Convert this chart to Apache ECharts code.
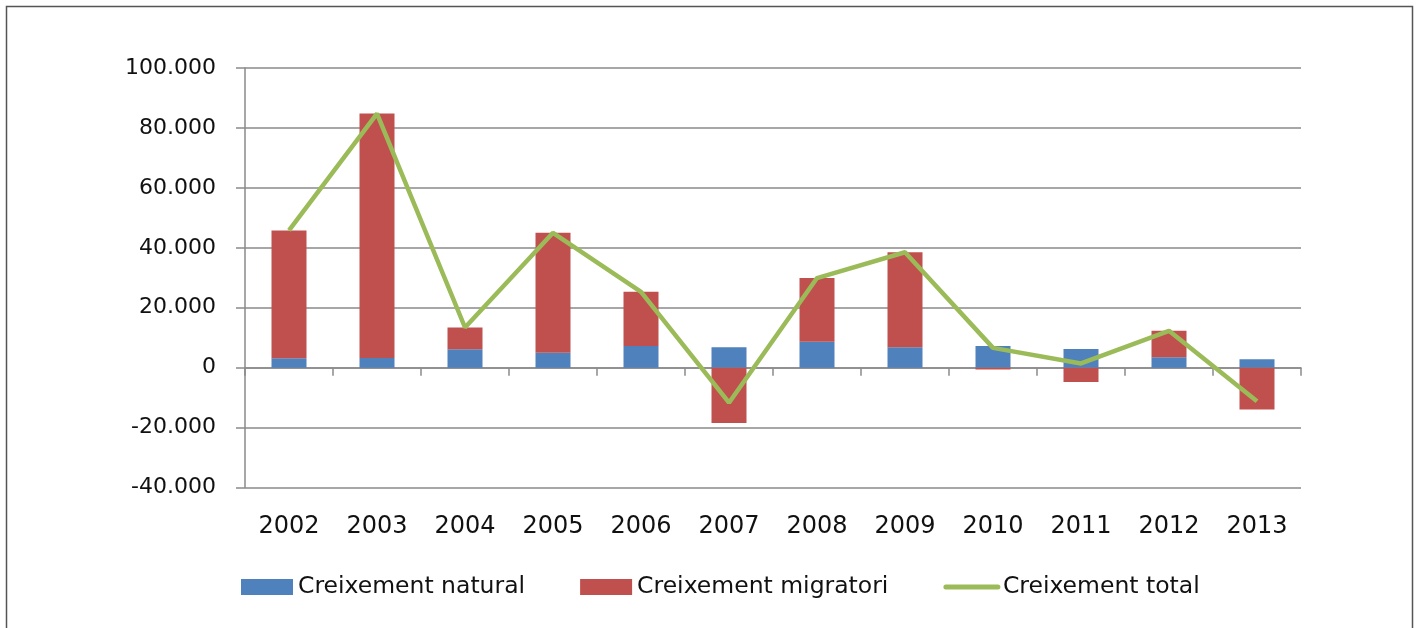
<!DOCTYPE html>
<html>
<head>
<meta charset="utf-8">
<script src="https://cdn.jsdelivr.net/npm/echarts@6/dist/echarts.min.js"></script>
<style>
  html, body { margin: 0; padding: 0; background: #fff; }
  #main { width: 1419px; height: 628px; }
</style>
</head>
<body>
<div id="main"></div>
<script>
// anys
var years = ['2002','2003','2004','2005','2006','2007','2008','2009','2010','2011','2012','2013'];
// persones
var natural = [3100, 3200, 6100, 5000, 7200, 6800, 8600, 6800, 7200, 6200, 3500, 2800];
var migratori = [42700, 81600, 7300, 40000, 18100, -18500, 21300, 31700, -600, -4800, 8800, -14000];
var total = [45800, 84800, 13400, 45000, 25300, -11700, 29900, 38500, 6600, 1400, 12300, -11200];
var seriesNames = ['Creixement natural', 'Creixement migratori', 'Creixement total'];

var gridGray = '#8a8a8a';
var font = 'DejaVu Sans';

var chart = echarts.init(document.getElementById('main'));

// format 20.000
function fmt(v) {
    if (v === 0) return '0';
    return (v / 1000) + '.000';
}

chart.setOption({
    animation: false,
    backgroundColor: '#fff',
    graphic: [{
        type: 'rect',
        shape: { x: 6.5, y: 6.5, width: 1406, height: 640 },
        style: { fill: null, stroke: '#555', lineWidth: 1.5 },
        silent: true
    }],
    grid: { left: 245, right: 118, top: 68, bottom: 140.5 },
    legend: {
        left: 241,
        top: 573,
        padding: 0,
        itemWidth: 52,
        itemHeight: 16,
        itemGap: 55,
        textStyle: { fontFamily: font, fontSize: 23.5, color: '#111', lineHeight: 28 },
        data: [
            { name: seriesNames[0], icon: 'rect' },
            { name: seriesNames[1], icon: 'rect' },
            {
                name: seriesNames[2],
                itemStyle: { color: 'rgba(0,0,0,0)', borderWidth: 0, opacity: 0 },
                lineStyle: { width: 5, color: '#9BBB59', cap: 'round' }
            }
        ]
    },
    xAxis: [{
        type: 'category',
        data: years,
        position: 'bottom',
        axisLine: { onZero: true, lineStyle: { color: gridGray, width: 1.5 } },
        axisTick: { show: true, length: 8, lineStyle: { color: gridGray, width: 1.5 } },
        axisLabel: { show: false }
    }, {
        type: 'category',
        data: years,
        position: 'bottom',
        axisLine: { show: false, onZero: false },
        axisTick: { show: false },
        axisLabel: { margin: 27, fontFamily: font, fontSize: 24, color: '#111' }
    }],
    yAxis: {
        type: 'value',
        min: -40000,
        max: 100000,
        interval: 20000,
        axisLine: { show: true, lineStyle: { color: gridGray, width: 1.5 } },
        axisTick: { show: true, length: 9, lineStyle: { color: gridGray, width: 1.5 } },
        splitLine: { lineStyle: { color: gridGray, width: 1.5 } },
        axisLabel: { margin: 29, fontFamily: font, fontSize: 22, color: '#111', formatter: fmt }
    },
    series: [{
        name: seriesNames[0],
        type: 'bar',
        stack: 'c',
        barWidth: 35,
        data: natural,
        itemStyle: { color: '#4F81BD' }
    }, {
        name: seriesNames[1],
        type: 'bar',
        stack: 'c',
        barWidth: 35,
        data: migratori,
        itemStyle: { color: '#C0504D' }
    }, {
        name: seriesNames[2],
        type: 'line',
        data: total,
        symbol: 'none',
        z: 5,
        lineStyle: { color: '#9BBB59', width: 4.5 },
        itemStyle: { color: '#9BBB59' }
    }]
});
</script>
</body>
</html>
